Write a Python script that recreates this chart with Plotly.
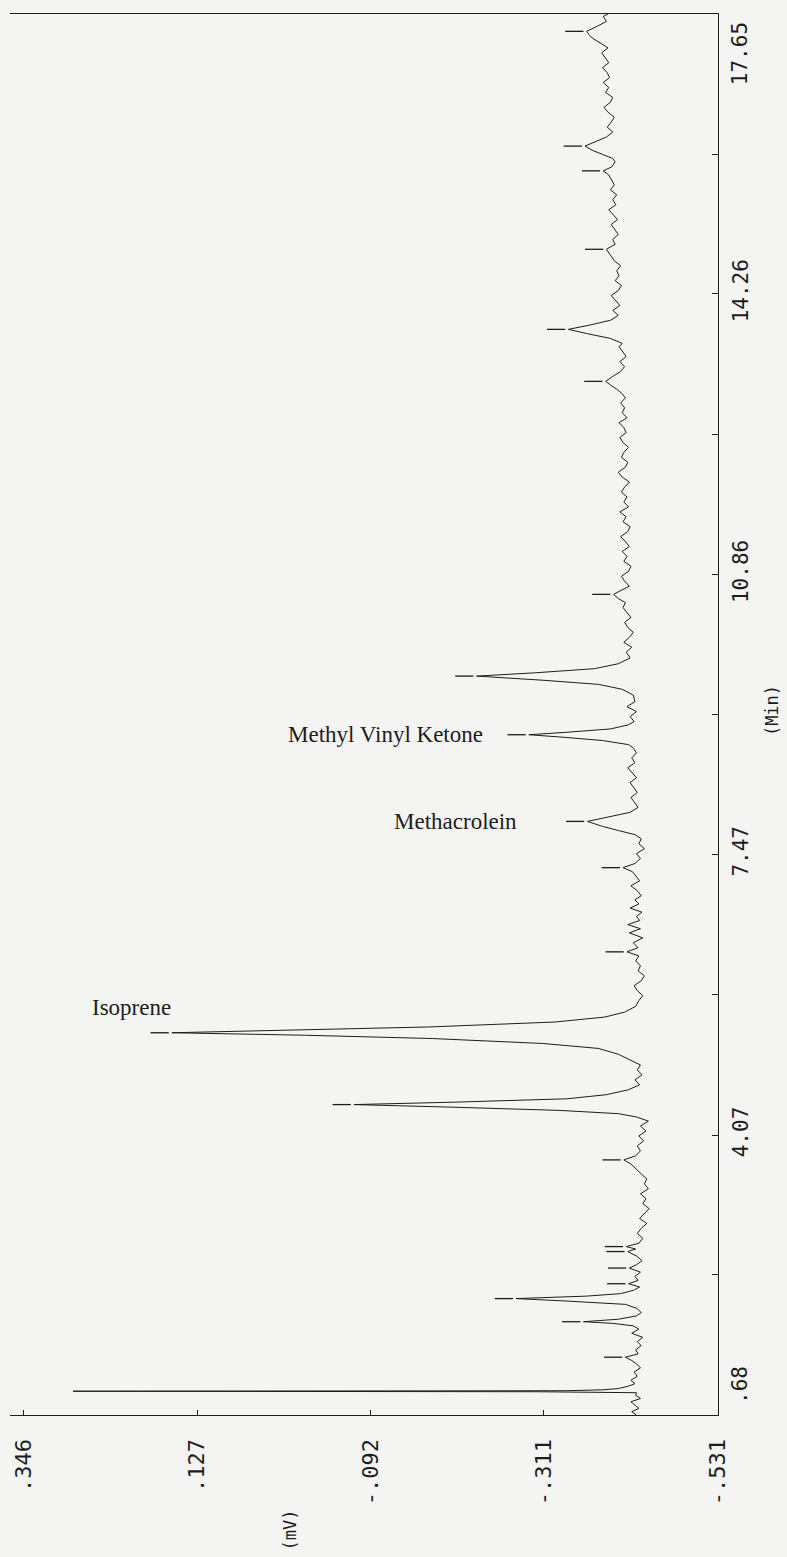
import plotly.graph_objects as go

# ---------------- data ----------------
time_min = [
    0.68, 0.72, 0.76, 0.80, 0.84, 0.88, 0.92, 0.950, 0.962, 0.968, 0.974, 0.985,
    1.00, 1.03, 1.06, 1.10, 1.15, 1.20, 1.25, 1.30, 1.34, 1.38, 1.42, 1.47, 1.52,
    1.57, 1.62, 1.67, 1.72, 1.76, 1.79, 1.81, 1.84, 1.88, 1.92, 1.97, 2.02, 2.06,
    2.09, 2.12, 2.15, 2.19, 2.23, 2.27, 2.31, 2.36, 2.41, 2.46, 2.50, 2.55, 2.60,
    2.66, 2.69, 2.72, 2.76, 2.82, 2.88, 2.94, 3.00, 3.06, 3.12, 3.18, 3.24, 3.30,
    3.36, 3.42, 3.48, 3.54, 3.60, 3.66, 3.72, 3.77, 3.82, 3.88, 3.94, 4.00, 4.06,
    4.12, 4.18, 4.24, 4.29, 4.33, 4.37, 4.41, 4.44, 4.47, 4.51, 4.56, 4.62, 4.68,
    4.74, 4.80, 4.86, 4.92, 4.98, 5.05, 5.12, 5.18, 5.24, 5.28, 5.31, 5.34, 5.38,
    5.44, 5.50, 5.56, 5.63, 5.70, 5.76, 5.82, 5.88, 5.94, 6.00, 6.06, 6.12, 6.18,
    6.24, 6.29, 6.34, 6.40, 6.46, 6.52, 6.57, 6.62, 6.67, 6.72, 6.77, 6.82, 6.87,
    6.92, 6.97, 7.03, 7.09, 7.15, 7.21, 7.26, 7.31, 7.36, 7.42, 7.48, 7.54, 7.60,
    7.66, 7.71, 7.76, 7.81, 7.87, 7.93, 7.98, 8.04, 8.10, 8.16, 8.22, 8.28, 8.34,
    8.40, 8.46, 8.52, 8.58, 8.64, 8.70, 8.76, 8.80, 8.85, 8.89, 8.92, 8.95, 8.99,
    9.04, 9.08, 9.14, 9.20, 9.26, 9.32, 9.40, 9.47, 9.53, 9.58, 9.63, 9.67, 9.72,
    9.78, 9.85, 9.92, 9.98, 10.04, 10.10, 10.16, 10.22, 10.28, 10.34, 10.40, 10.46,
    10.52, 10.57, 10.62, 10.67, 10.72, 10.78, 10.84, 10.90, 10.96, 11.02, 11.08,
    11.14, 11.20, 11.26, 11.32, 11.38, 11.44, 11.50, 11.56, 11.62, 11.68, 11.74,
    11.80, 11.86, 11.92, 11.98, 12.04, 12.10, 12.16, 12.22, 12.28, 12.34, 12.40,
    12.46, 12.52, 12.58, 12.64, 12.70, 12.76, 12.82, 12.88, 12.94, 13.00, 13.05,
    13.10, 13.15, 13.20, 13.26, 13.32, 13.38, 13.44, 13.50, 13.56, 13.62, 13.66,
    13.72, 13.78, 13.83, 13.88, 13.94, 14.00, 14.06, 14.12, 14.18, 14.24, 14.30,
    14.36, 14.42, 14.48, 14.54, 14.60, 14.66, 14.72, 14.80, 14.86, 14.92, 14.98,
    15.04, 15.10, 15.16, 15.22, 15.28, 15.34, 15.40, 15.46, 15.52, 15.58, 15.64,
    15.70, 15.75, 15.80, 15.86, 15.90, 15.95, 16.00, 16.05, 16.10, 16.16, 16.22,
    16.28, 16.34, 16.40, 16.46, 16.52, 16.58, 16.64, 16.70, 16.76, 16.82, 16.88,
    16.94, 17.00, 17.06, 17.12, 17.18, 17.24, 17.30, 17.36, 17.40, 17.44, 17.50,
    17.56, 17.62, 17.65,
]

signal_mv = [
    -0.428, -0.422, -0.431, -0.426, -0.421, -0.433, -0.427, -0.428, -0.300, 0.284, -0.340, -0.385,
    -0.405, -0.418, -0.426, -0.421, -0.429, -0.425, -0.433, -0.428, -0.422, -0.414, -0.430, -0.427, -0.434,
    -0.429, -0.436, -0.422, -0.431, -0.424, -0.398, -0.361, -0.405, -0.428, -0.434, -0.429, -0.414, -0.340,
    -0.276, -0.365, -0.408, -0.424, -0.432, -0.418, -0.430, -0.426, -0.433, -0.419, -0.428, -0.435, -0.429,
    -0.417, -0.427, -0.415, -0.431, -0.436, -0.429, -0.434, -0.441, -0.432, -0.438, -0.444, -0.436, -0.440,
    -0.433, -0.443, -0.438, -0.441, -0.434, -0.428, -0.421, -0.412, -0.427, -0.433, -0.429, -0.437, -0.431,
    -0.440, -0.433, -0.443, -0.428, -0.405, -0.330, -0.190, -0.071, -0.200, -0.340, -0.390, -0.418, -0.432,
    -0.426, -0.435, -0.429, -0.433, -0.420, -0.405, -0.380, -0.310, -0.170, -0.010, 0.159, 0.010, -0.165,
    -0.325, -0.388, -0.413, -0.427, -0.431, -0.436, -0.429, -0.425, -0.434, -0.438, -0.430, -0.433, -0.427,
    -0.431, -0.416, -0.430, -0.424, -0.436, -0.419, -0.433, -0.417, -0.432, -0.428, -0.435, -0.420, -0.431,
    -0.426, -0.434, -0.429, -0.421, -0.432, -0.427, -0.423, -0.411, -0.426, -0.433, -0.428, -0.438, -0.431,
    -0.434, -0.426, -0.405, -0.385, -0.366, -0.395, -0.420, -0.430, -0.425, -0.421, -0.429, -0.424, -0.420,
    -0.428, -0.423, -0.417, -0.426, -0.422, -0.428, -0.424, -0.418, -0.385, -0.335, -0.292, -0.340, -0.395,
    -0.418, -0.425, -0.420, -0.428, -0.416, -0.426, -0.424, -0.410, -0.380, -0.310, -0.226, -0.300, -0.375,
    -0.405, -0.420, -0.415, -0.422, -0.412, -0.419, -0.424, -0.417, -0.413, -0.421, -0.416, -0.411,
    -0.414, -0.405, -0.399, -0.410, -0.419, -0.413, -0.409, -0.418, -0.421, -0.412, -0.416,
    -0.410, -0.419, -0.414, -0.408, -0.417, -0.420, -0.411, -0.415, -0.407, -0.418, -0.412,
    -0.416, -0.409, -0.413, -0.419, -0.410, -0.405, -0.414, -0.417, -0.409, -0.412, -0.418,
    -0.411, -0.407, -0.415, -0.412, -0.406, -0.416, -0.410, -0.413, -0.408, -0.414, -0.410,
    -0.404, -0.396, -0.389, -0.398, -0.408, -0.413, -0.407, -0.415, -0.410, -0.406, -0.410,
    -0.395, -0.365, -0.342, -0.368, -0.395, -0.405, -0.398, -0.407, -0.402, -0.396, -0.405,
    -0.409, -0.401, -0.406, -0.403, -0.408, -0.400, -0.396, -0.390, -0.401, -0.398, -0.405,
    -0.400, -0.396, -0.404, -0.399, -0.393, -0.402, -0.398, -0.403, -0.395, -0.400, -0.397,
    -0.393, -0.386, -0.397, -0.401, -0.398, -0.385, -0.372, -0.363, -0.375, -0.390, -0.398,
    -0.391, -0.396, -0.400, -0.392, -0.387, -0.395, -0.398, -0.389, -0.393, -0.386, -0.394,
    -0.391, -0.385, -0.393, -0.389, -0.384, -0.392, -0.382, -0.372, -0.368, -0.365, -0.378,
    -0.390, -0.386, -0.392,
]

# integrator peak-mark ticks (retention time, apex signal)
mark_time = [1.38, 1.81, 2.09, 2.27, 2.46, 2.66, 2.72, 3.77, 4.44, 5.31, 6.29, 7.31,
             7.87, 8.92, 9.63, 10.62, 13.20, 13.83, 14.80, 15.75, 16.05, 17.44]
mark_apex = [-0.414, -0.361, -0.276, -0.418, -0.419, -0.417, -0.415, -0.412, -0.071, 0.159,
             -0.416, -0.411, -0.366, -0.292, -0.226, -0.399, -0.389, -0.342, -0.390, -0.386,
             -0.363, -0.365]

# compound labels
label_text = ["Isoprene", "Methyl Vinyl Ketone", "Methacrolein"]
label_time = [5.62, 8.92, 7.87]
label_mv = [0.210, -0.236, -0.280]
label_anchor = ["center", "right", "right"]

# axes
mv_ticks = [0.346, 0.127, -0.092, -0.311, -0.531]
mv_tick_text = [".346", ".127", "-.092", "-.311", "-.531"]
mv_range = [0.3636, -0.531]
time_ticks = [0.68, 2.38, 4.07, 5.77, 7.47, 9.17, 10.86, 12.56, 14.26, 15.95, 17.65]
time_tick_text = ["", "", "4.07", "", "7.47", "", "10.86", "", "14.26", "", ""]
time_range = [0.68, 17.65]
# end labels of the time axis sit inside the axis span
time_end_text = [".68", "17.65"]
time_end_pos = [0.0214, 0.972]   # fraction of axis height

# ---------------- figure ----------------
INK = "#1c1c1c"
PAPER = "#f4f4f2"
MONO = "DejaVu Sans Mono"

fig = go.Figure()
fig.add_trace(go.Scatter(x=signal_mv, y=time_min, mode="lines",
                         line=dict(color=INK, width=1.0), hoverinfo="skip",
                         showlegend=False))

mx, my = [], []
for t, a in zip(mark_time, mark_apex):
    mx += [a + 0.004, a + 0.027, None]
    my += [t, t, None]
fig.add_trace(go.Scatter(x=mx, y=my, mode="lines", line=dict(color=INK, width=1.3),
                         hoverinfo="skip", showlegend=False))

for txt, t, v, anc in zip(label_text, label_time, label_mv, label_anchor):
    fig.add_annotation(x=v, y=t, text=txt, showarrow=False, xanchor=anc,
                       yanchor="middle",
                       font=dict(family="Liberation Serif", size=23, color=INK))

for txt, pos in zip(time_end_text, time_end_pos):
    fig.add_annotation(xref="paper", yref="paper", x=1.031, y=pos, text=txt,
                       textangle=-90, showarrow=False, xanchor="center",
                       yanchor="middle", font=dict(family=MONO, size=21, color=INK))

fig.add_annotation(xref="paper", yref="paper", x=0.3955, y=-0.0985, text="(mV)",
                   textangle=-90, showarrow=False, xanchor="center", yanchor="bottom",
                   font=dict(family=MONO, size=17, color=INK))
fig.add_annotation(xref="paper", yref="paper", x=1.076, y=0.503, text="(Min)",
                   textangle=-90, showarrow=False, xanchor="center", yanchor="middle",
                   font=dict(family=MONO, size=17, color=INK))

fig.update_xaxes(range=mv_range, tickvals=mv_ticks, ticktext=mv_tick_text,
                 tickangle=-90, ticks="inside", ticklen=5, tickcolor=INK,
                 showline=True, linecolor=INK, linewidth=1.2, mirror=True,
                 showgrid=False, zeroline=False, ticklabelstandoff=14,
                 tickfont=dict(family=MONO, size=22, color=INK))
fig.update_yaxes(range=time_range, tickvals=time_ticks, ticktext=time_tick_text,
                 side="right", tickangle=-90, ticks="inside", ticklen=6, tickcolor=INK,
                 showline=True, linecolor=INK, linewidth=1.2, mirror=False,
                 showgrid=False, zeroline=False, ticklabelstandoff=4,
                 tickfont=dict(family=MONO, size=21, color=INK))

fig.update_layout(width=787, height=1557, margin=dict(l=10, r=69, t=14, b=142),
                  paper_bgcolor=PAPER, plot_bgcolor=PAPER, showlegend=False)

fig.write_html(
    "out.html",
    config={"displayModeBar": False, "staticPlot": True},
    post_script=("document.body.style.margin='0';"
                 "document.body.style.overflow='hidden';"
                 "document.documentElement.style.overflow='hidden';"),
)
